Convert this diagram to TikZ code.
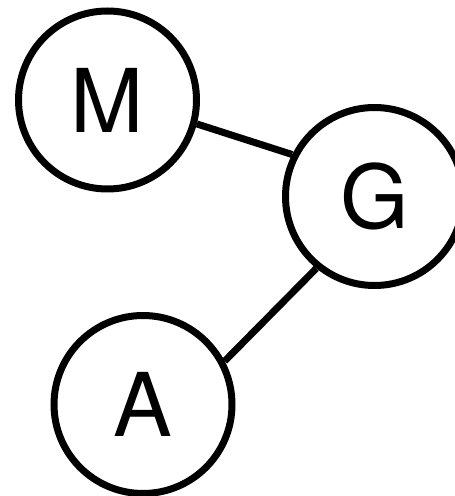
\documentclass[tikz,border=0pt]{standalone}
\usepackage{fontspec}
\setmainfont{TeX Gyre Heros}
\tikzset{
    vertex/.style={draw, circle, line width=7pt, minimum size=178pt, inner sep=0pt, font=\fontsize{88}{88}\selectfont},
    edge/.style={line width=7pt}
}
\begin{document}
\begin{tikzpicture}[x=1pt, y=1pt]
            \clip (0,0) rectangle (455,496);
            \useasboundingbox (0,0) rectangle (455,496);
            \node[vertex] (M) at (107.5,396) {M};
            \node[vertex] (G) at (374.5,299.5) {G};
            \node[vertex] (A) at (143,91.5) {A};
            
            \draw[edge] (M.-15) -- (G.153);
            \draw[edge] (A.28) -- (G.231);
        \end{tikzpicture}
\end{document}
